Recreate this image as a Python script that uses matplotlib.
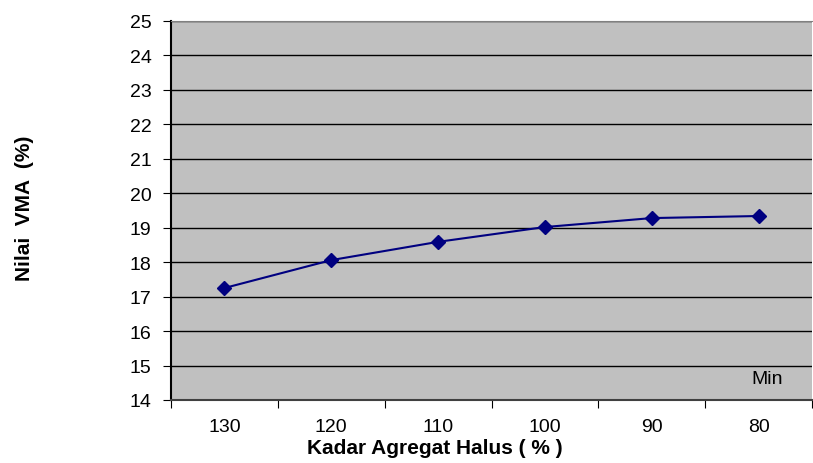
import matplotlib
matplotlib.use('Agg')
import matplotlib.pyplot as plt

plt.rcParams['font.family'] = ['Liberation Sans', 'DejaVu Sans']

kadar = ['130', '120', '110', '100', '90', '80']
vma = [17.25, 18.06, 18.59, 19.02, 19.28, 19.34]

fig = plt.figure(figsize=(8.13, 4.64), dpi=100)
ax = fig.add_axes([171 / 813, 63 / 464, 641 / 813, 379 / 464])
ax.set_facecolor('#c0c0c0')

x = range(len(kadar))
ax.plot(x, vma, color='#000080', marker='D', markersize=7.5, linewidth=1.5)

ax.set_xlim(-0.5, len(kadar) - 0.5)
ax.set_ylim(14, 25)
ax.set_yticks(range(14, 26))
ax.yaxis.grid(True, color='black', linewidth=1)
ax.set_axisbelow(True)

# ticks between categories, labels centred on them
ax.set_xticks([i + 0.5 for i in range(-1, len(kadar))], minor=False)
ax.set_xticklabels([])
ax.set_xticks(list(x), minor=True)
ax.set_xticklabels(kadar, minor=True)
ax.tick_params(axis='x', which='minor', length=0, labelsize=14, pad=13)
ax.tick_params(axis='x', which='major', length=6, direction='out', color='black')
ax.tick_params(axis='y', labelsize=14, length=6, direction='out', pad=8)

ax.spines['top'].set_color('#808080')
ax.spines['right'].set_visible(False)
ax.spines['left'].set_linewidth(1.5)
ax.spines['bottom'].set_color('#404040')
ax.spines['bottom'].set_linewidth(1.5)

ax.text(5.08, 14.62, 'Min', fontsize=14, ha='center', va='center')

fig.text(435 / 813, 1 - 449 / 464, 'Kadar Agregat Halus ( % )', fontsize=15,
         fontweight='bold', ha='center', va='center')
fig.text(24 / 813, 1 - 208 / 464, 'Nilai  VMA  (%)', rotation=90, fontsize=15,
         fontweight='bold', ha='center', va='center')

fig.savefig('out.png', dpi=100)
